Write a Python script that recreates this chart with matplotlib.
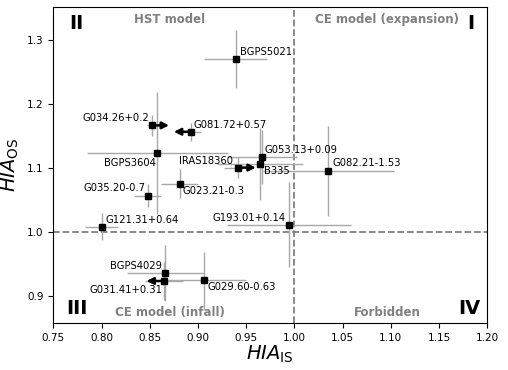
import matplotlib
matplotlib.use('Agg')
import matplotlib.pyplot as plt

# source names and measured HIA values
names = [
    'BGPS5021', 'G034.26+0.2', 'G081.72+0.57', 'BGPS3604', 'IRAS18360',
    'G053.13+0.09', 'B335', 'G082.21-1.53', 'G035.20-0.7', 'G023.21-0.3',
    'G121.31+0.64', 'G193.01+0.14', 'BGPS4029', 'G031.41+0.31',
    'G029.60-0.63'
]
hia_is = [
    0.939, 0.852, 0.893, 0.858, 0.942,
    0.9665, 0.9644, 1.035, 0.848, 0.881,
    0.800, 0.9945, 0.866, 0.8646,
    0.906
]
hia_is_err = [
    0.033, 0.005, 0.010, 0.073, 0.015,
    0.036, 0.045, 0.068, 0.014, 0.019,
    0.017, 0.064, 0.040, 0.020,
    0.044
]
hia_os = [
    1.270, 1.166, 1.156, 1.123, 1.100,
    1.116, 1.106, 1.0945, 1.056, 1.075,
    1.0075, 1.011, 0.9356, 0.9227,
    0.9237
]
hia_os_err = [
    0.045, 0.016, 0.014, 0.095, 0.016,
    0.042, 0.056, 0.070, 0.018, 0.023,
    0.021, 0.066, 0.044, 0.030,
    0.045
]

# sources with only a limit in HIA_IS (arrow direction, length)
limit_names = ['G034.26+0.2', 'G081.72+0.57', 'IRAS18360', 'G031.41+0.31']
limit_dx = [0.018, -0.018, 0.018, -0.018]

# label placement: (dx, dy) in points, ha, va
label_pos = {
    'BGPS5021': (3, 5, 'left', 'center'),
    'G034.26+0.2': (-2, 5, 'right', 'center'),
    'G081.72+0.57': (2, 5, 'left', 'center'),
    'BGPS3604': (-1, -7, 'right', 'center'),
    'IRAS18360': (-4, 5, 'right', 'center'),
    'G053.13+0.09': (2, 5, 'left', 'center'),
    'B335': (3, -5.5, 'left', 'center'),
    'G082.21-1.53': (3, 5.5, 'left', 'center'),
    'G035.20-0.7': (-2, 5.5, 'right', 'center'),
    'G023.21-0.3': (2, -5.5, 'left', 'center'),
    'G121.31+0.64': (2.5, 5, 'left', 'center'),
    'G193.01+0.14': (-2.5, 5, 'right', 'center'),
    'BGPS4029': (-2, 5, 'right', 'center'),
    'G031.41+0.31': (-1, -6.5, 'right', 'center'),
    'G029.60-0.63': (2.5, -5, 'left', 'center'),
}

fig = plt.figure(figsize=(5.08, 3.70), dpi=100)
ax = fig.add_axes([0.105, 0.127, 0.854, 0.854])

ax.axvline(1.0, color='grey', ls='--', lw=1.3, zorder=1)
ax.axhline(1.0, color='grey', ls='--', lw=1.3, zorder=1)

ax.errorbar(hia_is, hia_os, xerr=hia_is_err, yerr=hia_os_err,
            fmt='none', ecolor='#a8a8a8', elinewidth=1.0, zorder=2)
ax.plot(hia_is, hia_os, 's', color='k', ms=5, zorder=4)

for name, dx in zip(limit_names, limit_dx):
    i = names.index(name)
    ax.annotate('', xy=(hia_is[i] + dx, hia_os[i]),
                xytext=(hia_is[i], hia_os[i]),
                arrowprops=dict(arrowstyle='-|>', color='k', lw=1.8,
                                mutation_scale=10, shrinkA=0, shrinkB=0),
                zorder=3)

for i, name in enumerate(names):
    ox, oy, ha, va = label_pos[name]
    ax.annotate(name, (hia_is[i], hia_os[i]), xytext=(ox, oy),
                textcoords='offset points', ha=ha, va=va, fontsize=7.2)

# quadrant annotations
ax.text(0.774, 1.326, 'II', fontsize=14, fontweight='bold',
        ha='center', va='center')
ax.text(1.1835, 1.326, 'I', fontsize=14, fontweight='bold',
        ha='center', va='center')
ax.text(0.774, 0.879, 'III', fontsize=14, fontweight='bold',
        ha='center', va='center')
ax.text(1.182, 0.879, 'IV', fontsize=14, fontweight='bold',
        ha='center', va='center')
ax.text(0.871, 1.332, 'HST model', fontsize=8.5, fontweight='bold',
        color='grey', ha='center', va='center')
ax.text(1.096, 1.332, 'CE model (expansion)', fontsize=8.5,
        fontweight='bold', color='grey', ha='center', va='center')
ax.text(0.871, 0.874, 'CE model (infall)', fontsize=8.5, fontweight='bold',
        color='grey', ha='center', va='center')
ax.text(1.096, 0.874, 'Forbidden', fontsize=8.5, fontweight='bold',
        color='grey', ha='center', va='center')

ax.set_xlim(0.75, 1.20)
ax.set_ylim(0.857, 1.351)
ax.set_xticks([0.75, 0.80, 0.85, 0.90, 0.95, 1.00, 1.05, 1.10, 1.15, 1.20])
ax.set_yticks([0.9, 1.0, 1.1, 1.2, 1.3])
ax.tick_params(labelsize=7.5)
ax.set_xlabel(r'$HIA_{\rm IS}$', fontsize=14, labelpad=1)
ax.set_ylabel(r'$HIA_{\rm OS}$', fontsize=14, labelpad=4)

fig.savefig('out.png', dpi=100)
